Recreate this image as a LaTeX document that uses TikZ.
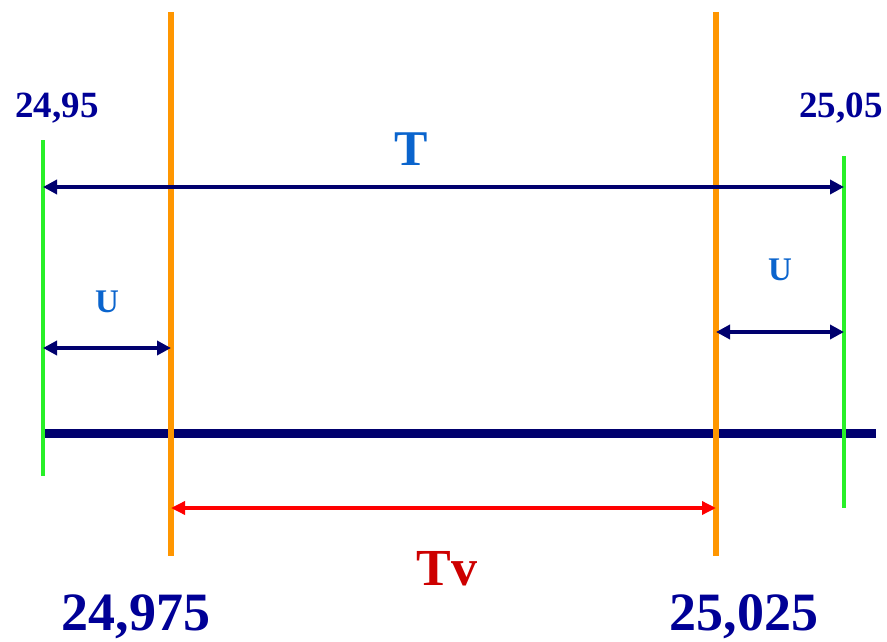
\documentclass[tikz,border=0pt]{standalone}
\usepackage{fontspec}
\setmainfont{Liberation Serif}
\usetikzlibrary{arrows.meta}
\definecolor{navyline}{RGB}{0,0,110}
\definecolor{navytext}{RGB}{0,0,150}
\definecolor{bluelab}{RGB}{10,100,205}
\definecolor{orangeline}{RGB}{255,150,0}
\definecolor{greenline}{RGB}{40,240,40}
\definecolor{redarrow}{RGB}{255,0,0}
\definecolor{redtext}{RGB}{205,0,0}
\tikzset{
  greenmark/.style={draw=greenline,line width=3.4pt},
  orangemark/.style={draw=orangeline,line width=5.2pt},
  dimarrow/.style={draw=navyline,line width=3.8pt,{Triangle[length=14pt,width=14pt]}-{Triangle[length=14pt,width=14pt]}},
  redarr/.style={draw=redarrow,line width=3.4pt,{Triangle[length=14pt,width=13pt]}-{Triangle[length=14pt,width=13pt]}},
  numlab/.style={text=navytext,font=\bfseries\fontsize{37}{40}\selectfont,inner sep=0pt},
  biglab/.style={text=navytext,font=\bfseries\fontsize{54}{58}\selectfont,inner sep=0pt},
  letlab/.style={text=bluelab,font=\bfseries\fontsize{33}{36}\selectfont,inner sep=0pt},
}
\begin{document}
\begin{tikzpicture}[x=1pt,y=-1pt]
\useasboundingbox (0,0) rectangle (887,642);
% coordinates
\coordinate (gLt) at (43,140);  \coordinate (gLb) at (43,476);
\coordinate (gRt) at (844,156); \coordinate (gRb) at (844,508);
\coordinate (oLt) at (171,12);  \coordinate (oLb) at (171,556);
\coordinate (oRt) at (716,12);  \coordinate (oRb) at (716,556);
\coordinate (baseL) at (43,433); \coordinate (baseR) at (876,433);
\coordinate (TL) at (43,187); \coordinate (TR) at (844,187);
\coordinate (ULa) at (43,348); \coordinate (ULb) at (171,348);
\coordinate (URa) at (716,332); \coordinate (URb) at (844,332);
\coordinate (TvL) at (171,508); \coordinate (TvR) at (716,508);
% base line
\draw[navyline,line width=9pt] (baseL) -- (baseR);
% vertical marks
\draw[greenmark] (gLt) -- (gLb);
\draw[greenmark] (gRt) -- (gRb);
\draw[orangemark] (oLt) -- (oLb);
\draw[orangemark] (oRt) -- (oRb);
% dimension arrows
\draw[dimarrow] (TL) -- (TR);
\draw[dimarrow] (ULa) -- (ULb);
\draw[dimarrow] (URa) -- (URb);
\draw[redarr] (TvL) -- (TvR);
% labels
\node[numlab] (n2495) at (57,108) {24,95};
\node[numlab] (n2505) at (841,108) {25,05};
\node[text=bluelab,font=\bfseries\fontsize{50}{54}\selectfont,inner sep=0pt] (lT) at (411,149) {T};
\node[letlab] (lU1) at (107,302) {U};
\node[letlab] (lU2) at (780,270) {U};
\node[text=redtext,font=\bfseries\fontsize{52}{56}\selectfont,inner sep=0pt] (lTv) at (447,569) {Tv};
\node[biglab] (n24975) at (136,617) {24,975};
\node[biglab] (n25025) at (744,617) {25,025};
\end{tikzpicture}
\end{document}
